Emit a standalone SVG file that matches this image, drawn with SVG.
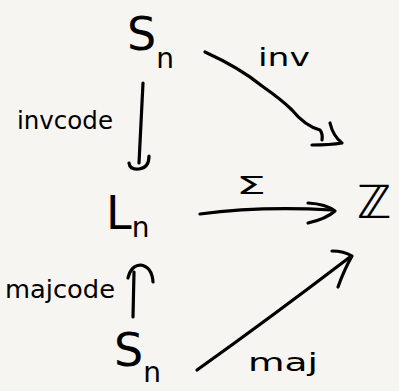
<svg xmlns="http://www.w3.org/2000/svg" width="399" height="391" viewBox="0 0 399 391">
<style>
.bg{fill:#f7f5f1}
.t{font-family:"DejaVu Sans","Liberation Sans",sans-serif;fill:#000}
.big{font-size:46px}
.sub{font-size:28px}
.lbl{font-size:25px}
.c{fill:none;stroke:#000;stroke-width:3.2;stroke-linecap:round;stroke-linejoin:round}
</style>
<rect class="bg" width="399" height="391"/>
<g id="Sn_top"><text class="t big" x="127" y="50">S<tspan class="sub" dy="18">n</tspan></text></g>
<g id="Ln"><text class="t big" x="106" y="229">L<tspan class="sub" dy="8">n</tspan></text></g>
<g id="Z"><text class="t big" x="357" y="218">ℤ</text></g>
<g id="Sn_bottom"><text class="t big" x="114" y="366">S<tspan class="sub" dy="16">n</tspan></text></g>
<g id="connectors">
  <g id="e_invcode">
    <path class="c" d="M143 83 L139 163"/>
    <path class="c" d="M129 163 Q130 170 139 169 Q149 168 149 156"/>
    <text class="t lbl" x="17" y="129" textLength="96" lengthAdjust="spacingAndGlyphs">invcode</text>
  </g>
  <g id="e_inv">
    <path class="c" d="M205 52 Q240 68 262 86 Q282 100 292 110 Q305 126 320 130 Q323 134 322 140"/>
    <path class="c" d="M330 123 Q333 136 342 143 Q330 145 312 145"/>
    <text class="t lbl" x="258" y="66" textLength="52" lengthAdjust="spacingAndGlyphs">inv</text>
  </g>
  <g id="e_sigma">
    <path class="c" d="M200 214 Q260 206 332 210"/>
    <path class="c" d="M308 203 Q326 204 335 211 Q326 219 308 223"/>
    <text class="t lbl" x="236" y="194" textLength="30" lengthAdjust="spacingAndGlyphs">Σ</text>
  </g>
  <g id="e_majcode">
    <path class="c" d="M133 317 L134 272"/>
    <path class="c" d="M128 278 Q131 265 141 265 Q152 267 153 282"/>
    <text class="t lbl" x="5" y="298" textLength="110" lengthAdjust="spacingAndGlyphs">majcode</text>
  </g>
  <g id="e_maj">
    <path class="c" d="M197 370 Q270 318 350 257"/>
    <path class="c" d="M332 251 Q344 251 352 256 Q344 270 338 287"/>
    <text class="t lbl" x="248" y="371" textLength="70" lengthAdjust="spacingAndGlyphs">maj</text>
  </g>
</g>
</svg>
